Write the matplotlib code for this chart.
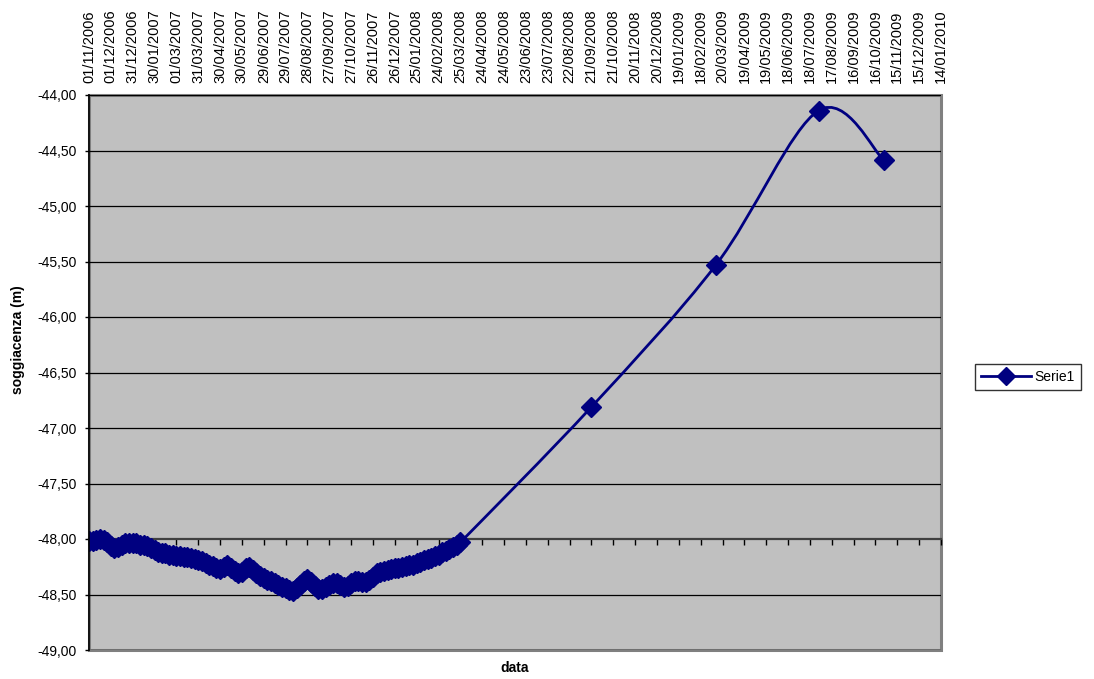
import numpy as np
import pandas as pd
import matplotlib
matplotlib.use('Agg')
import matplotlib.pyplot as plt
import matplotlib.dates as mdates
from matplotlib.path import Path
from matplotlib.patches import PathPatch, Rectangle
from matplotlib.lines import Line2D

plt.rcParams['font.family'] = ['Liberation Sans', 'DejaVu Sans']

# misure fitte (una ogni 5 giorni) dal 01/11/2006
dense_start = '2006-11-01'
dense_step_days = 5
dense_values = [
    -48.02, -48.02, -48.01, -48.00, -48.01, -48.03, -48.06, -48.08, -48.07, -48.05,
    -48.04, -48.04, -48.04, -48.04, -48.05, -48.05, -48.06, -48.08, -48.10, -48.12,
    -48.13, -48.13, -48.14, -48.14, -48.15, -48.15, -48.16, -48.16, -48.17, -48.18,
    -48.19, -48.20, -48.22, -48.23, -48.24, -48.26, -48.27, -48.25, -48.23, -48.26,
    -48.29, -48.31, -48.30, -48.26, -48.25, -48.28, -48.31, -48.33, -48.35, -48.37,
    -48.38, -48.40, -48.41, -48.43, -48.44, -48.46, -48.47, -48.44, -48.41, -48.38,
    -48.36, -48.39, -48.42, -48.45, -48.45, -48.43, -48.41, -48.40, -48.40, -48.41,
    -48.43, -48.42, -48.40, -48.38, -48.38, -48.39, -48.39, -48.37, -48.34, -48.31,
    -48.30, -48.29, -48.28, -48.27, -48.26, -48.26, -48.25, -48.24, -48.23, -48.23,
    -48.22, -48.21, -48.19, -48.18, -48.17, -48.15, -48.14, -48.12, -48.11, -48.09,
    -48.07, -48.05, -48.03,
]

# misure sparse
sparse_dates = ['2008-09-21', '2009-03-11', '2009-07-30', '2009-10-28']
sparse_values = [-46.81, -45.53, -44.14, -44.59]

x_start = '2006-11-01'
x_end = '2010-01-14'
tick_step_days = 30
y_ticks = [-49.0, -48.5, -48.0, -47.5, -47.0, -46.5, -46.0, -45.5, -45.0, -44.5, -44.0]

dense_dates = pd.date_range(dense_start, periods=len(dense_values), freq=f'{dense_step_days}D')
dates = list(dense_dates) + list(pd.to_datetime(sparse_dates))
values = dense_values + sparse_values
xs = mdates.date2num(dates)
ys = np.array(values)


def smooth_path(x, y):
    """linea smussata tipo Excel (bezier con tangenti Catmull-Rom)"""
    pts = np.column_stack([x, y])
    n = len(pts)
    verts = [pts[0]]
    codes = [Path.MOVETO]
    for i in range(n - 1):
        p_prev = pts[i - 1] if i > 0 else pts[i]
        p0 = pts[i]
        p1 = pts[i + 1]
        p_next = pts[i + 2] if i + 2 < n else pts[i + 1]
        c1 = p0 + (p1 - p_prev) / 6.0
        c2 = p1 - (p_next - p0) / 6.0
        verts += [c1, c2, p1]
        codes += [Path.CURVE4] * 3
    return Path(verts, codes)


navy = '#000080'
fig = plt.figure(figsize=(10.94, 6.79), dpi=100)
ax = fig.add_axes([89 / 1094, 29 / 679, 852 / 1094, 555 / 679])
ax.set_facecolor('#C0C0C0')

ax.set_xlim(mdates.date2num(pd.Timestamp(x_start)), mdates.date2num(pd.Timestamp(x_end)))
ax.set_ylim(-49, -44)

for yv in y_ticks:
    if yv != -48.0:
        ax.axhline(yv, color='black', lw=0.9, zorder=1)

ax.add_patch(PathPatch(smooth_path(xs, ys), facecolor='none', edgecolor=navy, lw=2, zorder=3))
ax.plot(xs, ys, ls='none', marker='D', ms=10, color=navy, zorder=4)

# asse x posizionato a -48, etichette in alto
xt = pd.date_range(x_start, x_end, freq=f'{tick_step_days}D')
ax.set_xticks(mdates.date2num(xt))
ax.set_xticklabels([d.strftime('%d/%m/%Y') for d in xt])
ax.tick_params(axis='x', direction='out', length=4, width=1, color='black',
               bottom=True, top=False, labelbottom=False, labeltop=True, pad=4.6,
               labelrotation=90, labelsize=10.5)
ax.spines['bottom'].set_position(('data', -48))
ax.spines['bottom'].set_color('#404040')
ax.spines['bottom'].set_linewidth(1.6)
ax.spines['bottom'].set_zorder(2)

ax.set_yticks(y_ticks)
ax.set_yticklabels([f'{v:.2f}'.replace('.', ',') for v in y_ticks])
ax.tick_params(axis='y', direction='out', length=3, width=1, pad=6, labelsize=10)
ax.spines['left'].set_color('black')
ax.spines['left'].set_linewidth(1.2)
ax.spines['top'].set_visible(False)
ax.spines['right'].set_visible(False)
ax.add_patch(Rectangle((0, 0), 1, 1, transform=ax.transAxes, fill=False,
                       edgecolor='#808080', lw=2.2, clip_on=False, zorder=0.5))
ax.spines['left'].set_zorder(5)

fig.text(18 / 1094, 1 - 340 / 679, 'soggiacenza (m)', rotation=90, ha='center', va='center',
         fontsize=10, fontweight='bold')
fig.text(515 / 1094, 1 - 668 / 679, 'data', ha='center', va='center',
         fontsize=10, fontweight='bold')

handle = Line2D([], [], color=navy, lw=2, marker='D', ms=9)
leg = fig.legend([handle], ['Serie1'], loc='center left',
                 bbox_to_anchor=(975 / 1094, 1 - 377 / 679), fontsize=10,
                 fancybox=False, frameon=True, handlelength=3.6, borderpad=0.4,
                 handletextpad=0.3, borderaxespad=0)
leg.get_frame().set_edgecolor('black')
leg.get_frame().set_linewidth(1)

fig.savefig('out.png', dpi=100)
